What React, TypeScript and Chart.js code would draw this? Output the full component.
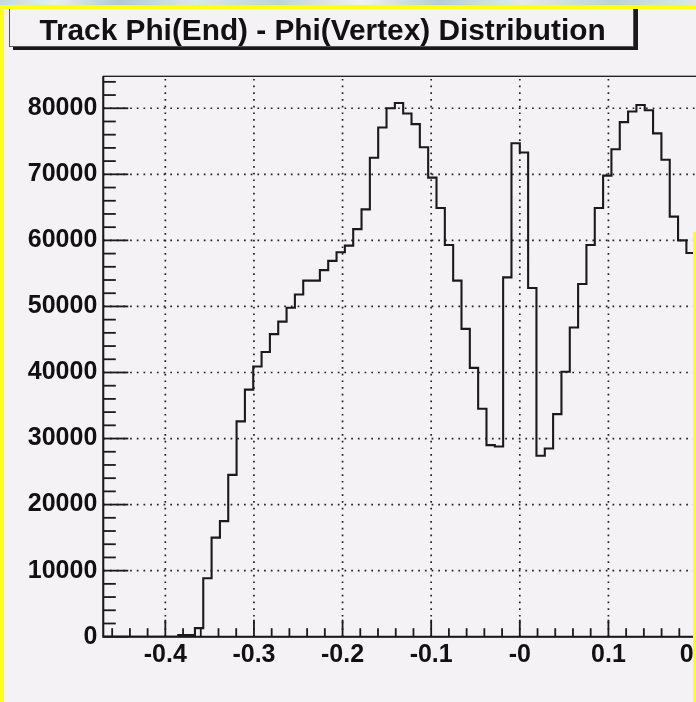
import React, { useEffect, useRef } from "react";
import { Chart, registerables } from "chart.js";

Chart.register(...registerables);

// ---------- data ----------
const TITLE = "Track Phi(End) - Phi(Vertex) Distribution";
const X_MIN = -0.47;
const X_MAX = 0.47;
const BIN_WIDTH = 0.0094;
const Y_MAX = 84840;

// bin contents (bins 0..71 visible in the picture)
const binCounts = [
  0, 0, 0, 0, 0, 0, 0, 0, 0,
  250, 250, 1300, 8840, 15000, 17500, 24500, 32600, 37400, 40900,
  43100, 45800, 47700, 49800, 51800, 53900, 53900, 55500, 56900, 58200,
  59200, 61700, 64700, 72500, 77100, 80000, 80800, 79200, 77600, 74100,
  69500, 64900, 59300, 53900, 46600, 40700, 34500, 29000, 28800, 54400,
  74700, 73300, 52800, 27400, 28500, 33700, 40100, 46800, 53400, 59300,
  64900, 69800, 73800, 77900, 79500, 80500, 79700, 76200, 72200, 63600,
  60000, 58100, 57000,
];

const xTickValues = [-0.4, -0.3, -0.2, -0.1, 0, 0.1, 0.2, 0.3, 0.4];
const xTickLabels = ["-0.4", "-0.3", "-0.2", "-0.1", "-0", "0.1", "0.2", "0.3", "0.4"];
const yTickValues = [0, 10000, 20000, 30000, 40000, 50000, 60000, 70000, 80000];
const yTickLabels = ["0", "10000", "20000", "30000", "40000", "50000", "60000", "70000", "80000"];
const X_MINOR_STEP = 0.02;
const Y_MINOR_STEP = 2000;

// ---------- layout ----------
const PAGE_W = 696;
const PAGE_H = 702;
const CANVAS_W = 960;
const CANVAS_H = 702;
const PLOT_LEFT = 103.3;
const PLOT_TOP = 76.3;
const PLOT_RIGHT = 936.3;
const PLOT_BOTTOM = 636.7;
const BG = "#f5f2f5";
const INK = "#1a1a1a";
const FONT_FAMILY = "'Liberation Sans', Arial, Helvetica, sans-serif";

const framePlugin = {
  id: "rootFrame",
  beforeDatasetsDraw(chart: any) {
    const { ctx, chartArea: a, scales } = chart;
    const xs = scales.x;
    const ys = scales.y;
    ctx.save();
    ctx.strokeStyle = "#222";
    ctx.lineWidth = 1.7;
    ctx.setLineDash([1.7, 5]);
    xTickValues.forEach((v) => {
      const px = xs.getPixelForValue(v);
      ctx.beginPath();
      ctx.moveTo(px, a.bottom);
      ctx.lineTo(px, a.top);
      ctx.stroke();
    });
    yTickValues.forEach((v) => {
      if (v === 0) return;
      const py = ys.getPixelForValue(v);
      ctx.beginPath();
      ctx.moveTo(a.left, py);
      ctx.lineTo(a.right, py);
      ctx.stroke();
    });
    ctx.restore();
  },
  afterDatasetsDraw(chart: any) {
    const { ctx, chartArea: a, scales } = chart;
    const xs = scales.x;
    const ys = scales.y;
    ctx.save();
    ctx.strokeStyle = INK;
    ctx.setLineDash([]);
    // frame (top / right)
    ctx.lineWidth = 1.3;
    ctx.strokeRect(a.left, a.top, a.right - a.left, a.bottom - a.top);
    // axes
    ctx.lineWidth = 2;
    ctx.beginPath();
    ctx.moveTo(a.left, a.top);
    ctx.lineTo(a.left, a.bottom);
    ctx.lineTo(a.right, a.bottom);
    ctx.stroke();
    // ticks
    ctx.lineWidth = 1.8;
    const xMajLen = 17;
    const yMajLen = 25;
    const i0 = Math.ceil(X_MIN / X_MINOR_STEP - 1e-9);
    const i1 = Math.floor(X_MAX / X_MINOR_STEP + 1e-9);
    for (let i = i0; i <= i1; i++) {
      const v = i * X_MINOR_STEP;
      const major = i % 5 === 0;
      const px = xs.getPixelForValue(v);
      ctx.beginPath();
      ctx.moveTo(px, a.bottom);
      ctx.lineTo(px, a.bottom - (major ? xMajLen : xMajLen / 2));
      ctx.stroke();
    }
    const j1 = Math.floor(Y_MAX / Y_MINOR_STEP);
    for (let j = 0; j <= j1; j++) {
      const v = j * Y_MINOR_STEP;
      const major = j % 5 === 0;
      const py = ys.getPixelForValue(v);
      ctx.beginPath();
      ctx.moveTo(a.left, py);
      ctx.lineTo(a.left + (major ? yMajLen : yMajLen / 2), py);
      ctx.stroke();
    }
    ctx.restore();
  },
};

export default function App() {
  const canvasRef = useRef<HTMLCanvasElement | null>(null);

  useEffect(() => {
    const canvas = canvasRef.current;
    if (!canvas) return;
    const points = binCounts.map((c, k) => ({ x: X_MIN + k * BIN_WIDTH, y: c }));
    points.push({
      x: X_MIN + binCounts.length * BIN_WIDTH,
      y: binCounts[binCounts.length - 1],
    });
    const tickFont = { family: FONT_FAMILY, size: 25, weight: "bold" as const };
    const chart = new Chart(canvas, {
      type: "line",
      data: {
        datasets: [
          {
            data: points,
            borderColor: INK,
            borderWidth: 2.1,
            pointRadius: 0,
            stepped: "before",
            fill: false,
          } as any,
        ],
      },
      options: {
        animation: false,
        responsive: false,
        devicePixelRatio: 1,
        layout: {
          autoPadding: false,
          padding: { left: 0, top: PLOT_TOP, right: CANVAS_W - PLOT_RIGHT, bottom: 0 },
        } as any,
        plugins: {
          legend: { display: false },
          tooltip: { enabled: false },
          title: { display: false },
        },
        scales: {
          x: {
            type: "linear",
            min: X_MIN,
            max: X_MAX,
            afterBuildTicks: (s: any) => {
              s.ticks = xTickValues.map((v) => ({ value: v }));
            },
            afterFit: (s: any) => {
              s.height = CANVAS_H - PLOT_BOTTOM;
            },
            grid: { display: false, drawTicks: false },
            border: { display: false },
            ticks: {
              autoSkip: false,
              maxRotation: 0,
              padding: 3,
              color: "#111",
              font: tickFont,
              callback: (_v: any, i: number) => xTickLabels[i],
            },
          },
          y: {
            type: "linear",
            min: 0,
            max: Y_MAX,
            afterBuildTicks: (s: any) => {
              s.ticks = yTickValues.map((v) => ({ value: v }));
            },
            afterFit: (s: any) => {
              s.width = PLOT_LEFT;
            },
            grid: { display: false, drawTicks: false },
            border: { display: false },
            ticks: {
              autoSkip: false,
              padding: 6,
              color: "#111",
              font: tickFont,
              callback: (_v: any, i: number) => yTickLabels[i],
            },
          },
        },
      } as any,
      plugins: [framePlugin],
    });
    return () => chart.destroy();
  }, []);

  return (
    <div
      style={{
        position: "fixed",
        left: 0,
        top: 0,
        width: PAGE_W,
        height: PAGE_H,
        overflow: "hidden",
        background: BG,
      }}
    >
      <canvas
        ref={canvasRef}
        width={CANVAS_W}
        height={CANVAS_H}
        style={{ position: "absolute", left: 0, top: 0, width: CANVAS_W, height: CANVAS_H }}
      />
      {/* title box */}
      <div
        style={{
          position: "absolute",
          left: 9,
          top: 5,
          width: 623,
          height: 40,
          border: "1.5px solid #555",
          background: BG,
          boxShadow: "4px 3px 0 #1a1a1a",
        }}
      />
      <div
        style={{
          position: "absolute",
          left: 9,
          top: 9,
          width: 627,
          height: 41,
          lineHeight: "41px",
          textAlign: "center",
          fontFamily: FONT_FAMILY,
          fontWeight: "bold",
          fontSize: 29.8,
          color: "#111",
          whiteSpace: "nowrap",
        }}
      >
        {TITLE}
      </div>
      {/* outer page decorations */}
      <div
        style={{
          position: "absolute",
          left: 0,
          top: 0,
          width: PAGE_W,
          height: 5,
          background:
            "linear-gradient(90deg, #c9d6dc, #e7eef0 8%, #b8c8d0 17%, #dde6ea 28%, #c4d2d8 40%, #eef2f3 52%, #bccbd2 63%, #e3eaec 75%, #c2d0d6 88%, #dfe7ea)",
        }}
      />
      <div style={{ position: "absolute", left: 0, top: 5, width: PAGE_W, height: 4, background: "#ffff1a" }} />
      <div style={{ position: "absolute", left: 0, top: 5, width: 4, height: PAGE_H - 5, background: "#ffff1a" }} />
      <div style={{ position: "absolute", left: 693, top: 232, width: 3, height: PAGE_H - 232, background: "#ffff1a" }} />
    </div>
  );
}
